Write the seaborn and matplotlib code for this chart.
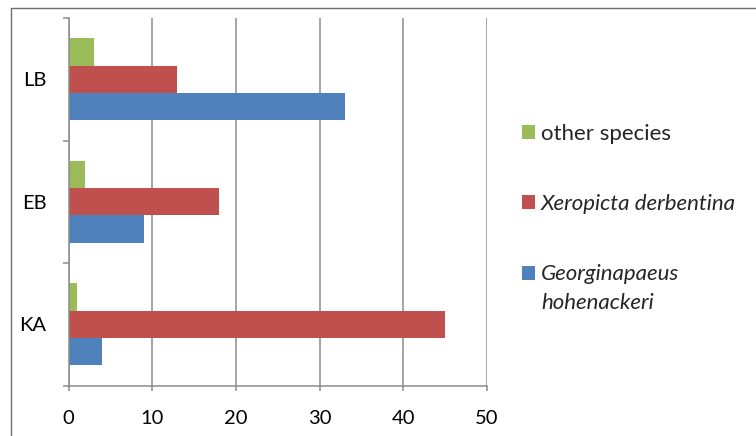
import matplotlib
matplotlib.use("Agg")
import matplotlib.pyplot as plt
from matplotlib.lines import Line2D
from matplotlib.ticker import FixedLocator, NullFormatter, FixedFormatter
import seaborn as sns
import pandas as pd

# Sampling sites (top to bottom) and snail counts per species
sites = ["LB", "EB", "KA"]
species = ["other species", "Xeropicta derbentina", "Georginapaeus hohenackeri"]
other_species = [3, 2, 1]
xeropicta = [13, 18, 45]
georginapaeus = [33, 9, 4]
legend_first_lines = ["other species", "Xeropicta derbentina", "Georginapaeus"]
legend_second_line = "hohenackeri"
x_ticks = [0, 10, 20, 30, 40, 50]

colors = ["#9BBB59", "#C0504D", "#4F81BD"]

df = pd.DataFrame({
    "site": sites * 3,
    "species": [species[0]] * 3 + [species[1]] * 3 + [species[2]] * 3,
    "count": other_species + xeropicta + georginapaeus,
})

sns.set_theme(style="white")
plt.rcParams["font.family"] = ["Lato", "DejaVu Sans"]

W, H = 756, 436
fig = plt.figure(figsize=(W / 100, H / 100), dpi=100)
ax = fig.add_axes([68.5 / W, 1 - 385.5 / H, (487 - 68.5) / W, (385.5 - 18) / H])

sns.barplot(
    data=df, x="count", y="site", hue="species",
    order=sites, hue_order=species, palette=colors,
    orient="h", width=0.667, gap=0, dodge=True,
    saturation=1, errorbar=None, edgecolor="none", linewidth=0, ax=ax,
)

handles = ax.get_legend().legend_handles
ax.get_legend().remove()

grid_color = "#8C8C8C"
ax.set_xlim(0, 50)
ax.set_ylim(2.5, -0.5)
ax.set_xticks(x_ticks)
ax.set_xticklabels([str(t) for t in x_ticks])
ax.xaxis.grid(True, color=grid_color, linewidth=1.1)
ax.set_axisbelow(True)

# category boundary ticks (major) and centred labels (minor)
ax.yaxis.set_major_locator(FixedLocator([-0.5, 0.5, 1.5, 2.5]))
ax.yaxis.set_major_formatter(NullFormatter())
ax.yaxis.set_minor_locator(FixedLocator([0, 1, 2]))
ax.yaxis.set_minor_formatter(FixedFormatter(sites))
ax.tick_params(axis="y", which="major", length=4.3, width=1.1, color=grid_color, direction="out", left=True)
ax.tick_params(axis="y", which="minor", length=0, pad=16, labelsize=14.5, labelcolor="black")
ax.tick_params(axis="x", which="major", length=3.6, width=1.1, color=grid_color, direction="out",
               bottom=True, pad=14, labelsize=14.5, labelcolor="black")
ax.set_xlabel("")
ax.set_ylabel("")

for side in ["top", "right"]:
    ax.spines[side].set_visible(False)
for side in ["left", "bottom"]:
    ax.spines[side].set_color(grid_color)
    ax.spines[side].set_linewidth(1.1)

leg_fs = 16
leg = fig.legend(
    handles, legend_first_lines, loc="center left",
    bbox_to_anchor=(522 / W, 1 - 204 / H), bbox_transform=fig.transFigure,
    frameon=False, fontsize=leg_fs, handlelength=0.6, handleheight=0.6,
    handletextpad=0.25, labelspacing=2.27, borderpad=0, borderaxespad=0,
)
for txt, name in zip(leg.get_texts(), species):
    if name != "other species":
        txt.set_fontstyle("italic")

# wrapped second line of the last species name
fig.canvas.draw()
ax.annotate(
    legend_second_line, xy=(0, 0), xycoords=leg.get_texts()[2],
    xytext=(0, -25), textcoords="offset pixels",
    ha="left", va="baseline", fontsize=leg_fs, fontstyle="italic",
    annotation_clip=False,
)

# chart-area frame (top and left edges)
frame_kw = dict(color="#6E6E6E", linewidth=1.0, transform=None)
fig.add_artist(Line2D([10.5, W], [H - 7.5, H - 7.5], **frame_kw))
fig.add_artist(Line2D([10.5, 10.5], [0, H - 7.5], **frame_kw))

fig.savefig("out.png", dpi=100)
